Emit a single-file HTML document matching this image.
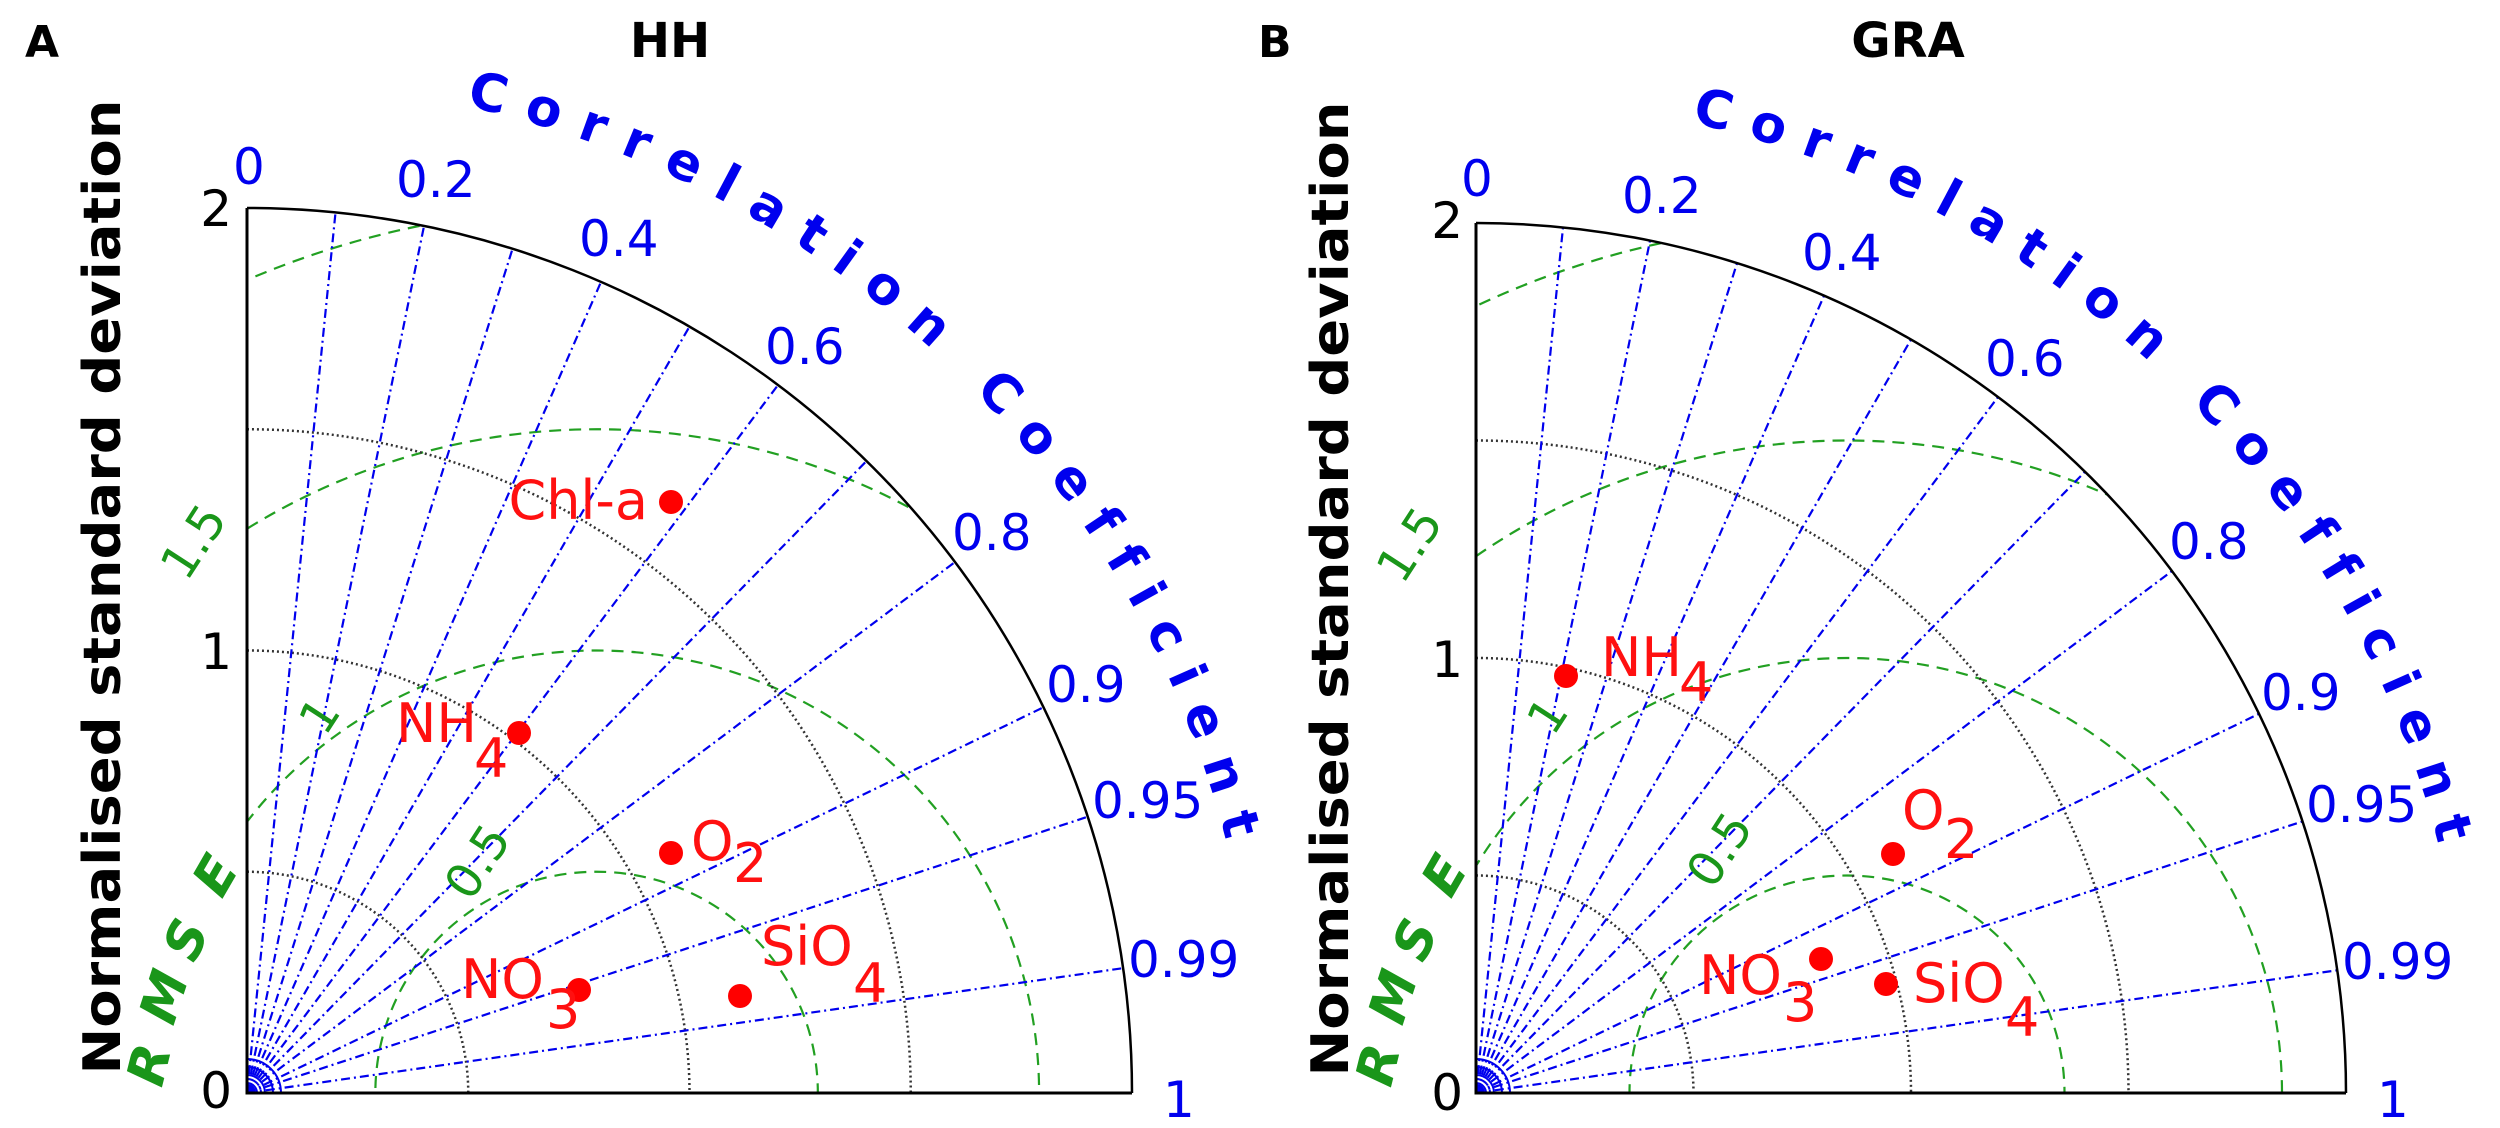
<!DOCTYPE html>
<html><head><meta charset="utf-8"><style>
html,body{margin:0;padding:0;background:#fff;width:2500px;height:1128px;overflow:hidden;}
svg{display:block;overflow:hidden;}
text{font-family:"DejaVu Sans","Liberation Sans",sans-serif;font-variant-ligatures:none;}
</style></head><body>
<svg width="2500" height="1128" viewBox="0 0 2500 1128" xmlns="http://www.w3.org/2000/svg">
<defs>
<clipPath id="qL"><path d="M0,0 L0,-885 A885,885 0 0 1 885,0 Z"/></clipPath>
<clipPath id="qR"><path d="M0,0 L0,-870 A870,870 0 0 1 870,0 Z"/></clipPath>
<path id="arcL" d="M465.8,106 A1011,1011 0 0 1 1242.6,917.4" fill="none"/>
<path id="arcR" d="M1691.1,122.6 A994,994 0 0 1 2454.9,920.4" fill="none"/>
</defs>

<!-- ============ LEFT PANEL ============ -->
<g transform="translate(247,1093)">
  <g clip-path="url(#qL)" fill="none" stroke="#22a022" stroke-width="2.2" stroke-dasharray="12,8">
    <circle cx="349.6" cy="0" r="221.25"/>
    <circle cx="349.6" cy="0" r="442.5"/>
    <circle cx="349.6" cy="0" r="663.75"/>
    <circle cx="349.6" cy="0" r="885"/>
  </g>
  <g fill="none" stroke="#333" stroke-width="2.5" stroke-dasharray="2,3">
    <path d="M0,-221.25 A221.25,221.25 0 0 1 221.25,0"/>
    <path d="M0,-442.5 A442.5,442.5 0 0 1 442.5,0"/>
    <path d="M0,-663.75 A663.75,663.75 0 0 1 663.75,0"/>
  </g>
  <g stroke="#0000ee" stroke-width="2.2" stroke-dasharray="9,4,2,4">
    <line x1="0" y1="0" x2="885" y2="0" transform="rotate(-84.26)"/>
    <line x1="0" y1="0" x2="885" y2="0" transform="rotate(-78.46)"/>
    <line x1="0" y1="0" x2="885" y2="0" transform="rotate(-72.54)"/>
    <line x1="0" y1="0" x2="885" y2="0" transform="rotate(-66.42)"/>
    <line x1="0" y1="0" x2="885" y2="0" transform="rotate(-60)"/>
    <line x1="0" y1="0" x2="885" y2="0" transform="rotate(-53.13)"/>
    <line x1="0" y1="0" x2="885" y2="0" transform="rotate(-45.57)"/>
    <line x1="0" y1="0" x2="885" y2="0" transform="rotate(-36.87)"/>
    <line x1="0" y1="0" x2="885" y2="0" transform="rotate(-25.84)"/>
    <line x1="0" y1="0" x2="885" y2="0" transform="rotate(-18.19)"/>
    <line x1="0" y1="0" x2="885" y2="0" transform="rotate(-8.11)"/>
  </g>
  <g fill="none" stroke="#0000ee" stroke-width="2">
    <path d="M0,-10 A10,10 0 0 1 10,0"/><path d="M0,-18 A18,18 0 0 1 18,0"/><path d="M0,-26 A26,26 0 0 1 26,0"/><path d="M0,-34 A34,34 0 0 1 34,0"/>
  </g>
  <path d="M0,-885 A885,885 0 0 1 885,0" fill="none" stroke="#000" stroke-width="2.5"/>
  <path d="M0,-885 L0,0 L885,0" fill="none" stroke="#000" stroke-width="3"/>
</g>

<g fill="#000" font-size="50" text-anchor="end">
  <text x="232" y="226">2</text><text x="232" y="669">1</text><text x="232" y="1108">0</text>
</g>
<g fill="#0000ee" font-size="50">
  <text x="233" y="184">0</text><text x="396" y="197">0.2</text><text x="579" y="256">0.4</text>
  <text x="765" y="364">0.6</text><text x="952" y="550">0.8</text><text x="1046" y="702">0.9</text>
  <text x="1092" y="818">0.95</text><text x="1128" y="977">0.99</text><text x="1163" y="1117">1</text>
</g>
<text font-size="52" font-weight="bold" fill="#0000ee"><textPath href="#arcL" textLength="1112" lengthAdjust="spacing">Correlation Coefficient</textPath></text>
<g fill="#1a961a" font-size="48" text-anchor="middle" dominant-baseline="central">
  <text transform="translate(194,542) rotate(-57)">1.5</text>
  <text transform="translate(320,716) rotate(-57)">1</text>
  <text transform="translate(478,862) rotate(-57)">0.5</text>
</g>
<g fill="#1a961a" font-size="52" font-weight="bold" font-style="italic" text-anchor="middle" dominant-baseline="central">
  <text transform="translate(150,1065) rotate(-76)">R</text>
  <text transform="translate(165,997) rotate(-72)">M</text>
  <text transform="translate(187,940) rotate(-66)">S</text>
  <text transform="translate(216,876) rotate(-60)">E</text>
</g>
<text transform="translate(120,587) rotate(-90)" font-size="52" font-weight="bold" fill="#000" text-anchor="middle" textLength="975" lengthAdjust="spacingAndGlyphs">Normalised standard deviation</text>
<text x="670" y="57" font-size="48" font-weight="bold" text-anchor="middle">HH</text>
<text x="25" y="57" font-size="44" font-weight="bold">A</text>

<g fill="#ff0000">
  <circle cx="671" cy="502" r="12"/><circle cx="519" cy="733" r="12"/><circle cx="671" cy="853" r="12"/>
  <circle cx="579" cy="990" r="12"/><circle cx="740" cy="996" r="12"/>
</g>
<g fill="#ff1010" font-size="54">
  <text x="648" y="519" text-anchor="end">Chl-a</text>
  <text x="396" y="742">NH</text><text x="474" y="777">4</text>
  <text x="691" y="860">O</text><text x="733" y="882">2</text>
  <text x="461" y="998">NO</text><text x="546" y="1028">3</text>
  <text x="761" y="965">SiO</text><text x="853" y="1002">4</text>
</g>

<!-- ============ RIGHT PANEL ============ -->
<g transform="translate(1476,1093)">
  <g clip-path="url(#qR)" fill="none" stroke="#22a022" stroke-width="2.2" stroke-dasharray="12,8">
    <circle cx="371" cy="0" r="217.5"/>
    <circle cx="371" cy="0" r="435"/>
    <circle cx="371" cy="0" r="652.5"/>
    <circle cx="371" cy="0" r="870"/>
  </g>
  <g fill="none" stroke="#333" stroke-width="2.5" stroke-dasharray="2,3">
    <path d="M0,-217.5 A217.5,217.5 0 0 1 217.5,0"/>
    <path d="M0,-435 A435,435 0 0 1 435,0"/>
    <path d="M0,-652.5 A652.5,652.5 0 0 1 652.5,0"/>
  </g>
  <g stroke="#0000ee" stroke-width="2.2" stroke-dasharray="9,4,2,4">
    <line x1="0" y1="0" x2="870" y2="0" transform="rotate(-84.26)"/>
    <line x1="0" y1="0" x2="870" y2="0" transform="rotate(-78.46)"/>
    <line x1="0" y1="0" x2="870" y2="0" transform="rotate(-72.54)"/>
    <line x1="0" y1="0" x2="870" y2="0" transform="rotate(-66.42)"/>
    <line x1="0" y1="0" x2="870" y2="0" transform="rotate(-60)"/>
    <line x1="0" y1="0" x2="870" y2="0" transform="rotate(-53.13)"/>
    <line x1="0" y1="0" x2="870" y2="0" transform="rotate(-45.57)"/>
    <line x1="0" y1="0" x2="870" y2="0" transform="rotate(-36.87)"/>
    <line x1="0" y1="0" x2="870" y2="0" transform="rotate(-25.84)"/>
    <line x1="0" y1="0" x2="870" y2="0" transform="rotate(-18.19)"/>
    <line x1="0" y1="0" x2="870" y2="0" transform="rotate(-8.11)"/>
  </g>
  <g fill="none" stroke="#0000ee" stroke-width="2">
    <path d="M0,-10 A10,10 0 0 1 10,0"/><path d="M0,-18 A18,18 0 0 1 18,0"/><path d="M0,-26 A26,26 0 0 1 26,0"/><path d="M0,-34 A34,34 0 0 1 34,0"/>
  </g>
  <path d="M0,-870 A870,870 0 0 1 870,0" fill="none" stroke="#000" stroke-width="2.5"/>
  <path d="M0,-870 L0,0 L870,0" fill="none" stroke="#000" stroke-width="3"/>
</g>

<g fill="#000" font-size="50" text-anchor="end">
  <text x="1463" y="238">2</text><text x="1463" y="677">1</text><text x="1463" y="1110">0</text>
</g>
<g fill="#0000ee" font-size="50">
  <text x="1461" y="196">0</text><text x="1622" y="213">0.2</text><text x="1802" y="270">0.4</text>
  <text x="1985" y="376">0.6</text><text x="2169" y="559">0.8</text><text x="2261" y="710">0.9</text>
  <text x="2306" y="822">0.95</text><text x="2342" y="979">0.99</text><text x="2377" y="1117">1</text>
</g>
<text font-size="52" font-weight="bold" fill="#0000ee"><textPath href="#arcR" textLength="1093" lengthAdjust="spacing">Correlation Coefficient</textPath></text>
<g fill="#1a961a" font-size="48" text-anchor="middle" dominant-baseline="central">
  <text transform="translate(1410,545) rotate(-57)">1.5</text>
  <text transform="translate(1548,716) rotate(-57)">1</text>
  <text transform="translate(1720,850) rotate(-57)">0.5</text>
</g>
<g fill="#1a961a" font-size="52" font-weight="bold" font-style="italic" text-anchor="middle" dominant-baseline="central">
  <text transform="translate(1379,1065) rotate(-76)">R</text>
  <text transform="translate(1394,997) rotate(-72)">M</text>
  <text transform="translate(1416,940) rotate(-66)">S</text>
  <text transform="translate(1445,876) rotate(-60)">E</text>
</g>
<text transform="translate(1348,589) rotate(-90)" font-size="52" font-weight="bold" fill="#000" text-anchor="middle" textLength="975" lengthAdjust="spacingAndGlyphs">Normalised standard deviation</text>
<text x="1908" y="57" font-size="48" font-weight="bold" text-anchor="middle">GRA</text>
<text x="1258" y="57" font-size="44" font-weight="bold">B</text>

<g fill="#ff0000">
  <circle cx="1566" cy="676" r="12"/><circle cx="1893" cy="854" r="12"/>
  <circle cx="1821" cy="959" r="12"/><circle cx="1886" cy="984" r="12"/>
</g>
<g fill="#ff1010" font-size="54">
  <text x="1601" y="676">NH</text><text x="1679" y="701">4</text>
  <text x="1902" y="829">O</text><text x="1944" y="858">2</text>
  <text x="1699" y="994">NO</text><text x="1783" y="1021">3</text>
  <text x="1913" y="1002">SiO</text><text x="2005" y="1036">4</text>
</g>
</svg>
</body></html>
